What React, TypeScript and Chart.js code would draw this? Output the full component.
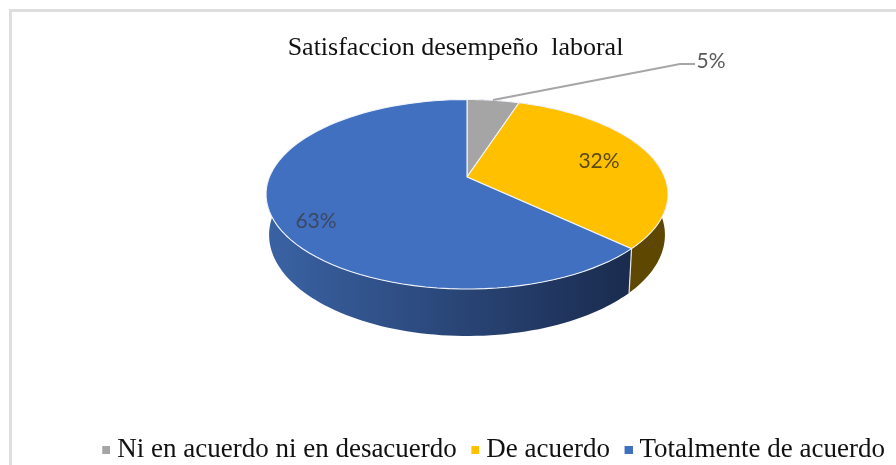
import React, { useEffect, useRef } from "react";
import { Chart, registerables } from "chart.js";

Chart.register(...registerables);

const categories = ["Ni en acuerdo ni en desacuerdo", "De acuerdo", "Totalmente de acuerdo"];
const values = [5, 32, 63];
const percentLabels = ["5%", "32%", "63%"];
const sliceColors = ["#a5a5a5", "#ffc000", "#4170c0"];
const wallFrom = ["#6b6b6b", "#6a5000", "#3a62a3"];
const wallTo = ["#5a5a5a", "#5e4700", "#1a2b4e"];
const labelColors = ["#595959", "#5c4a10", "#3c4862"];
const labelOffsets = [[244, -116], [132, -16], [-151, 44]];

const CX = 467;
const CY = 177;
const RADIUS = 197.6;
const SQUASH = 0.4636;
const K = -0.182;
const WALL_DY = 39.5;
const WALL_SX = 0.985;
const WALL_SY = 1.067;

function project(el: any, theta: number, lower = false): [number, number] {
  const u = Math.cos(theta);
  const v = Math.sin(theta);
  const w = 1 + K * v;
  const r = el.outerRadius;
  const x = (r * u) / w;
  const y = (r * SQUASH * v) / w;
  if (lower) return [el.x + x * WALL_SX, el.y + WALL_DY + y * WALL_SY];
  return [el.x + x, el.y + y];
}

const pie3d = {
  id: "pie3d",
  beforeDraw(chart: any) {
    const { ctx } = chart;
    ctx.save();
    ctx.fillStyle = "#ffffff";
    ctx.fillRect(0, 0, chart.width, chart.height);
    ctx.fillStyle = "#dedede";
    ctx.fillRect(9, 9, chart.width - 9, 3);
    ctx.fillRect(9, 9, 3, chart.height - 9);
    ctx.restore();
  },
  afterLayout(chart: any) {
    const ca = chart.chartArea;
    ca.top = CY - 150;
    ca.bottom = CY + 150;
    ca.left = CX - 250;
    ca.right = CX + 250;
    ca.width = 500;
    ca.height = 300;
    chart.titleBlock.left -= 11.5;
    chart.titleBlock.right -= 11.5;
    const lg = chart.legend;
    const dy = 473 - lg.bottom;
    lg.top += dy;
    lg.bottom += dy;
    lg.left += 4;
    lg.right += 4;
  },
  beforeDatasetDraw(chart: any, args: any) {
    const { ctx } = chart;
    const arcs = args.meta.data;
    const steps = 80;
    ctx.save();
    arcs.forEach((el: any, i: number) => {
      const a0 = el.startAngle;
      const a1 = Math.min(el.endAngle, Math.PI);
      if (a1 <= a0) return;
      ctx.beginPath();
      for (let s = 0; s <= steps; s++) {
        const t = a0 + ((a1 - a0) * s) / steps;
        const [x, y] = project(el, t);
        if (s === 0) ctx.moveTo(x, y);
        else ctx.lineTo(x, y);
      }
      for (let s = steps; s >= 0; s--) {
        const t = a0 + ((a1 - a0) * s) / steps;
        const [x, y] = project(el, t, true);
        ctx.lineTo(x, y);
      }
      ctx.closePath();
      const g = ctx.createLinearGradient(el.x - el.outerRadius, 0, el.x + el.outerRadius * 0.83, 0);
      g.addColorStop(0, wallFrom[i]);
      g.addColorStop(1, wallTo[i]);
      ctx.fillStyle = g;
      ctx.fill();
    });
    // separator on the wall between neighbouring slices
    const el = arcs[2];
    const [x0, y0] = project(el, el.startAngle);
    const [x1, y1] = project(el, el.startAngle, true);
    ctx.strokeStyle = "#e8e8e8";
    ctx.lineWidth = 1.2;
    ctx.beginPath();
    ctx.moveTo(x0, y0);
    ctx.lineTo(x1, y1);
    ctx.stroke();
    // top surface
    arcs.forEach((a: any) => {
      ctx.beginPath();
      ctx.moveTo(a.x, a.y);
      for (let s = 0; s <= steps; s++) {
        const t = a.startAngle + ((a.endAngle - a.startAngle) * s) / steps;
        const [x, y] = project(a, t);
        ctx.lineTo(x, y);
      }
      ctx.closePath();
      ctx.fillStyle = a.options.backgroundColor;
      ctx.fill();
      ctx.strokeStyle = "#f2f5fb";
      ctx.lineWidth = 1.1;
      ctx.lineJoin = "round";
      ctx.stroke();
    });
    ctx.restore();
    return false;
  },
  afterDatasetsDraw(chart: any) {
    const { ctx } = chart;
    const el = chart.getDatasetMeta(0).data[0];
    ctx.save();
    // leader line of the smallest slice
    ctx.strokeStyle = "#a6a6a6";
    ctx.lineWidth = 2;
    ctx.beginPath();
    ctx.moveTo(el.x + 26, el.y - 77);
    ctx.lineTo(el.x + 213, el.y - 113);
    ctx.lineTo(el.x + 228, el.y - 113);
    ctx.stroke();
    ctx.font = '21px Lato, "Open Sans", sans-serif';
    ctx.textAlign = "center";
    ctx.textBaseline = "middle";
    percentLabels.forEach((t, i) => {
      ctx.fillStyle = labelColors[i];
      ctx.fillText(t, el.x + labelOffsets[i][0], el.y + labelOffsets[i][1]);
    });
    ctx.restore();
  },
};

function markerCanvas(color: string) {
  const c = document.createElement("canvas");
  c.width = 14;
  c.height = 8;
  const x = c.getContext("2d")!;
  x.fillStyle = color;
  x.fillRect(6, 0, 8, 8);
  return c;
}

export default function App() {
  const ref = useRef<HTMLCanvasElement>(null);
  useEffect(() => {
    const markers = sliceColors.map(markerCanvas);
    const chart = new Chart(ref.current!, {
      type: "pie",
      data: {
        labels: categories,
        datasets: [{ data: values, backgroundColor: sliceColors, borderWidth: 0 }],
      },
      plugins: [pie3d],
      options: {
        responsive: false,
        animation: false,
        radius: RADIUS,
        layout: { padding: { left: 38, right: 0, top: 0, bottom: 0 } },
        plugins: {
          tooltip: { enabled: false },
          title: {
            display: true,
            text: "Satisfaccion desempeño  laboral",
            color: "#111111",
            font: { family: '"Liberation Serif", serif', size: 26, weight: "normal" },
            padding: { top: 33, bottom: 4 },
          },
          legend: {
            position: "bottom",
            align: "end",
            labels: {
              usePointStyle: true,
              boxWidth: 1,
              padding: 15,
              color: "#111111",
              font: { family: '"Liberation Serif", serif', size: 27 },
              generateLabels: () =>
                categories.map((text, i) => ({
                  text,
                  fillStyle: sliceColors[i],
                  strokeStyle: sliceColors[i],
                  lineWidth: 0,
                  pointStyle: markers[i],
                  fontColor: "#111111",
                  hidden: false,
                  index: i,
                })),
            },
          },
        },
      } as any,
    });
    return () => chart.destroy();
  }, []);
  return (
    <div style={{ position: "fixed", left: 0, top: 0, width: 896, height: 465, background: "#fff" }}>
      <canvas ref={ref} width={896} height={465} style={{ display: "block" }} />
    </div>
  );
}
